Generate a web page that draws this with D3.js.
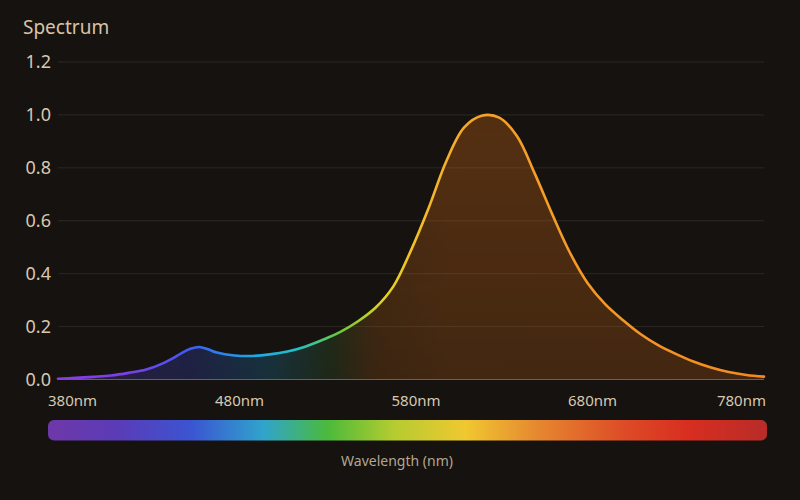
<!DOCTYPE html>
<html>
<head>
<meta charset="utf-8">
<script src="https://cdn.jsdelivr.net/npm/d3@7"></script>
<style>
  html, body { margin: 0; padding: 0; background: #15120f; }
  svg { display: block; }
</style>
</head>
<body>
<svg id="chart" width="800" height="500"></svg>
<script>
// ---- data ----
const wavelengths = [380,390,400,410,420,430,440,445,450,455,460,465,470,480,490,500,510,520,530,540,550,560,570,580,590,600,610,620,630,640,650,660,670,680,690,700,710,720,730,740,750,760,770,780];
const intensity   = [0.003,0.006,0.010,0.015,0.025,0.038,0.063,0.080,0.100,0.116,0.123,0.114,0.102,0.091,0.089,0.095,0.106,0.124,0.150,0.180,0.220,0.272,0.352,0.488,0.648,0.825,0.952,0.997,0.990,0.920,0.780,0.625,0.480,0.365,0.285,0.225,0.172,0.130,0.097,0.068,0.045,0.028,0.017,0.011];
const yTicks = [0, 0.2, 0.4, 0.6, 0.8, 1.0, 1.2];
const xTicks = [380, 480, 580, 680, 780];
const xTickLabels = ["380nm", "480nm", "580nm", "680nm", "780nm"];
const title = "Spectrum";
const xTitle = "Wavelength (nm)";
// line / fill colour stops (wavelength -> colour)
const lineStops = [[380,"#8a3ee0"],[420,"#7a40e8"],[455,"#3f5cf2"],[490,"#1ea6e6"],[515,"#22c0c8"],[540,"#6cc83a"],[565,"#e4d424"],[590,"#f5b82a"],[620,"#f5a22a"],[780,"#f58a20"]];
const fillStops = [[380,"#7a3ad8"],[455,"#3c50e0"],[500,"#2090c0"],[535,"#406a30"],[560,"#b06018"],[600,"#d06a18"],[780,"#d06818"]];
// colour bar stops (fraction along bar -> colour)
const barStops = [[0,"#6e38a8"],[0.10,"#5a3cb8"],[0.20,"#3b55d2"],[0.30,"#30a4cc"],[0.39,"#4cba3a"],[0.48,"#b4cc30"],[0.58,"#f0c830"],[0.68,"#e68830"],[0.80,"#dd4c26"],[0.89,"#d82e20"],[1.0,"#b82c28"]];

// ---- layout ----
const W = 800, H = 500;
const x = d3.scaleLinear().domain([380, 780]).range([58, 764]);
const y = d3.scaleLinear().domain([0, 1.2]).range([379.5, 62]);
const svg = d3.select("#chart");
const font = "'Noto Sans', 'Open Sans', sans-serif";

svg.append("rect").attr("width", W).attr("height", H).attr("fill", "#15120f");

const defs = svg.append("defs");
function hGrad(id, stops) {
  const g = defs.append("linearGradient").attr("id", id)
    .attr("gradientUnits", "userSpaceOnUse")
    .attr("x1", x(380)).attr("x2", x(780)).attr("y1", 0).attr("y2", 0);
  stops.forEach(s => g.append("stop").attr("offset", (s[0]-380)/400).attr("stop-color", s[1]));
}
hGrad("lineGrad", lineStops);
hGrad("fillGrad", fillStops);

const barG = defs.append("linearGradient").attr("id", "barGrad")
  .attr("x1", 0).attr("x2", 1).attr("y1", 0).attr("y2", 0);
barStops.forEach(s => barG.append("stop").attr("offset", s[0]).attr("stop-color", s[1]));

// vertical fade mask for fill
const vg = defs.append("linearGradient").attr("id", "vFade")
  .attr("gradientUnits", "userSpaceOnUse")
  .attr("x1", 0).attr("x2", 0).attr("y1", y(1)).attr("y2", y(0));
vg.append("stop").attr("offset", 0).attr("stop-color", "#fff").attr("stop-opacity", 1);
vg.append("stop").attr("offset", 1).attr("stop-color", "#fff").attr("stop-opacity", 0.72);
defs.append("mask").attr("id", "fadeMask")
  .append("rect").attr("x", 0).attr("y", 0).attr("width", W).attr("height", H).attr("fill", "url(#vFade)");

// title
svg.append("text").attr("x", 23).attr("y", 34)
  .attr("font-family", font).attr("font-size", 19).attr("fill", "#d8c3a8")
  .text(title);

// grid
svg.append("g").selectAll("line").data(yTicks.filter(d => d > 0)).join("line")
  .attr("x1", x(380)).attr("x2", x(780))
  .attr("y1", d => y(d)).attr("y2", d => y(d))
  .attr("stroke", "#2c2824").attr("stroke-width", 1);

// y labels
svg.append("g").selectAll("text").data(yTicks).join("text")
  .attr("x", 51).attr("y", d => y(d)).attr("dy", "0.35em")
  .attr("text-anchor", "end")
  .attr("font-family", font).attr("font-size", 18).attr("fill", "#d8c8b0")
  .text(d => d.toFixed(1));

// data
const pts = wavelengths.map((w, i) => ({ w, v: intensity[i] }));
const curve = d3.curveCatmullRom.alpha(0.5);

// area fill
const area = d3.area().x(d => x(d.w)).y0(y(0)).y1(d => y(d.v)).curve(curve);
svg.append("path").datum(pts).attr("d", area)
  .attr("fill", "url(#fillGrad)").attr("fill-opacity", 0.34)
  .attr("mask", "url(#fadeMask)");

// baseline
svg.append("line").attr("x1", x(380)).attr("x2", x(780))
  .attr("y1", y(0)).attr("y2", y(0))
  .attr("stroke", "#6e604e").attr("stroke-width", 1.2);

// line
const line = d3.line().x(d => x(d.w)).y(d => y(d.v)).curve(curve);
svg.append("path").datum(pts).attr("d", line)
  .attr("fill", "none").attr("stroke", "url(#lineGrad)")
  .attr("stroke-width", 2.6).attr("stroke-linecap", "round");

// x labels
svg.append("g").selectAll("text").data(xTicks).join("text")
  .attr("x", (d, i) => i === 0 ? x(d) - 10 : (i === xTicks.length - 1 ? x(d) + 2 : x(d) + 5))
  .attr("y", 406)
  .attr("text-anchor", (d, i) => i === 0 ? "start" : (i === xTicks.length - 1 ? "end" : "middle"))
  .attr("font-family", font).attr("font-size", 15).attr("fill", "#d8c8b0")
  .text((d, i) => xTickLabels[i]);

// colour bar
svg.append("rect").attr("x", 48).attr("y", 420).attr("width", 719).attr("height", 20.5)
  .attr("rx", 6).attr("fill", "url(#barGrad)");

// x title
svg.append("text").attr("x", 397).attr("y", 466).attr("text-anchor", "middle")
  .attr("font-family", font).attr("font-size", 14).attr("fill", "#b4a690")
  .text(xTitle);
</script>
</body>
</html>
